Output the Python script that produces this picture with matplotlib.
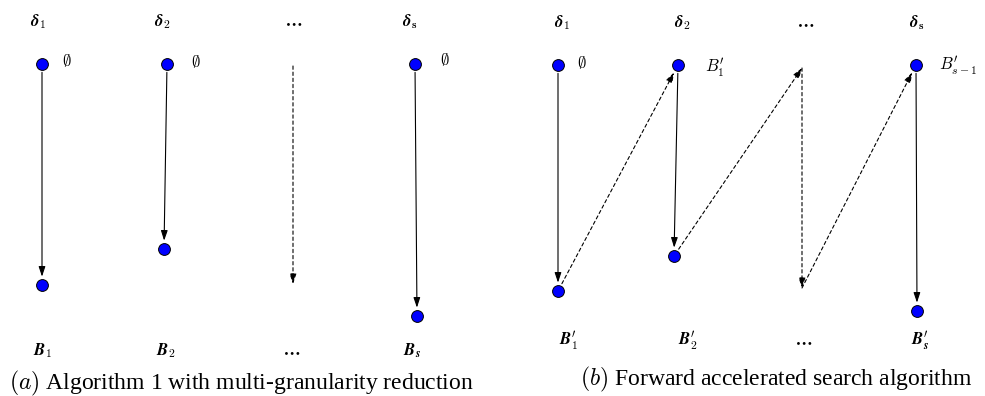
import matplotlib
matplotlib.use("Agg")
import matplotlib.pyplot as plt

plt.rcParams["mathtext.fontset"] = "cm"

# %% diagram data (pixel coordinates of the reference, y down)

# panel (a): top nodes, bottom nodes, dashed "..." column
a_top_x = [42, 167, 415]
a_top_y = [64, 64, 64]
a_bot_x = [42, 164, 417]
a_bot_y = [285, 249, 316]
a_dash_x = [293, 293]
a_dash_y = [66, 284]
a_head_x = [38, 162, 294, 410]
a_head_lbl = [r"$\boldsymbol{\delta}_\mathbf{1}$", r"$\boldsymbol{\delta}_\mathbf{2}$",
              r"$\mathbf{\cdots}$", r"$\boldsymbol{\delta}_\mathbf{s}$"]
a_empty_x = [67, 196, 445]
a_empty_y = [61, 62, 60]
a_foot_x = [43, 166, 292, 412]
a_foot_lbl = [r"$\boldsymbol{B}_\mathbf{1}$", r"$\boldsymbol{B}_\mathbf{2}$",
              r"$\mathbf{\cdots}$", r"$\boldsymbol{B}_\boldsymbol{s}$"]

# panel (b)
b_top_x = [558, 678, 916]
b_top_y = [65, 65, 65]
b_bot_x = [558, 674, 917]
b_bot_y = [291, 256, 311]
b_dash_x = [802, 802]
b_dash_y = [68, 288]
# dashed diagonal jumps: (start x, start y) -> (end x, end y)
b_jump_x0 = [558, 674, 802]
b_jump_y0 = [291, 256, 288]
b_jump_x1 = [678, 802, 916]
b_jump_y1 = [65, 68, 65]
b_head_x = [562, 682, 806, 917]
b_head_lbl = [r"$\boldsymbol{\delta}_\mathbf{1}$", r"$\boldsymbol{\delta}_\mathbf{2}$",
              r"$\mathbf{\cdots}$", r"$\boldsymbol{\delta}_\mathbf{s}$"]
b_side_x = [582, 715, 958]
b_side_y = [63, 68, 66]
b_side_lbl = [r"$\emptyset$", r"$B_1'$", r"$B_{s-1}'$"]
b_foot_x = [569, 688, 804, 920]
b_foot_lbl = [r"$\boldsymbol{B}_\mathbf{1}'$", r"$\boldsymbol{B}_\mathbf{2}'$",
              r"$\mathbf{\cdots}$", r"$\boldsymbol{B}_\boldsymbol{s}'$"]

cap_a = r"$(a)$ Algorithm 1 with multi-granularity reduction"
cap_b = r"$(b)$ Forward accelerated search algorithm"

# %% draw
fig = plt.figure(figsize=(9.85, 3.96), dpi=100)
ax = fig.add_axes([0, 0, 1, 1])
ax.set_xlim(0, 985)
ax.set_ylim(396, 0)
ax.axis("off")

node = dict(marker="o", markersize=8.5, markerfacecolor="#0000ff",
            markeredgecolor="k", markeredgewidth=0.7, linestyle="none", zorder=5)
solid = dict(arrowstyle="-|>,head_length=0.6,head_width=0.2", color="k", lw=0.8)
dashed = dict(solid, linestyle=(0, (3, 2.5)))


def arrow(x0, y0, x1, y1, props, sa=6, sb=6):
    p = dict(props, shrinkA=sa, shrinkB=sb)
    ax.annotate("", xy=(x1, y1), xytext=(x0, y0), arrowprops=p)


lbl = dict(ha="center", va="center", fontsize=12)

# panel (a)
ax.plot(a_top_x, a_top_y, **node)
ax.plot(a_bot_x, a_bot_y, **node)
for x0, y0, x1, y1 in zip(a_top_x, a_top_y, a_bot_x, a_bot_y):
    arrow(x0, y0, x1, y1, solid)
arrow(a_dash_x[0], a_dash_y[0], a_dash_x[1], a_dash_y[1], dashed, 0, 0)
for x, t in zip(a_head_x, a_head_lbl):
    ax.text(x, 22, t, **lbl)
for x, y in zip(a_empty_x, a_empty_y):
    ax.text(x, y, r"$\emptyset$", **lbl)
for x, t in zip(a_foot_x, a_foot_lbl):
    ax.text(x, 351, t, **lbl)
ax.text(241, 383, cap_a, ha="center", va="center", fontsize=17,
        family="Liberation Serif")

# panel (b)
ax.plot(b_top_x, b_top_y, **node)
ax.plot(b_bot_x, b_bot_y, **node)
for x0, y0, x1, y1 in zip(b_top_x, b_top_y, b_bot_x, b_bot_y):
    arrow(x0, y0, x1, y1, solid)
arrow(b_dash_x[0], b_dash_y[0], b_dash_x[1], b_dash_y[1], dashed, 0, 0)
for x0, y0, x1, y1 in zip(b_jump_x0, b_jump_y0, b_jump_x1, b_jump_y1):
    sa = 6 if x0 != b_dash_x[0] else 0
    sb = 6 if x1 != b_dash_x[0] else 0
    arrow(x0, y0, x1, y1, dashed, sa, sb)
for x, t in zip(b_head_x, b_head_lbl):
    ax.text(x, 23, t, **lbl)
for x, y, t in zip(b_side_x, b_side_y, b_side_lbl):
    ax.text(x, y, t, **lbl)
for x, t in zip(b_foot_x, b_foot_lbl):
    ax.text(x, 341, t, **lbl)
ax.text(776, 379, cap_b, ha="center", va="center", fontsize=17,
        family="Liberation Serif")

plt.savefig("out.png", dpi=100)
